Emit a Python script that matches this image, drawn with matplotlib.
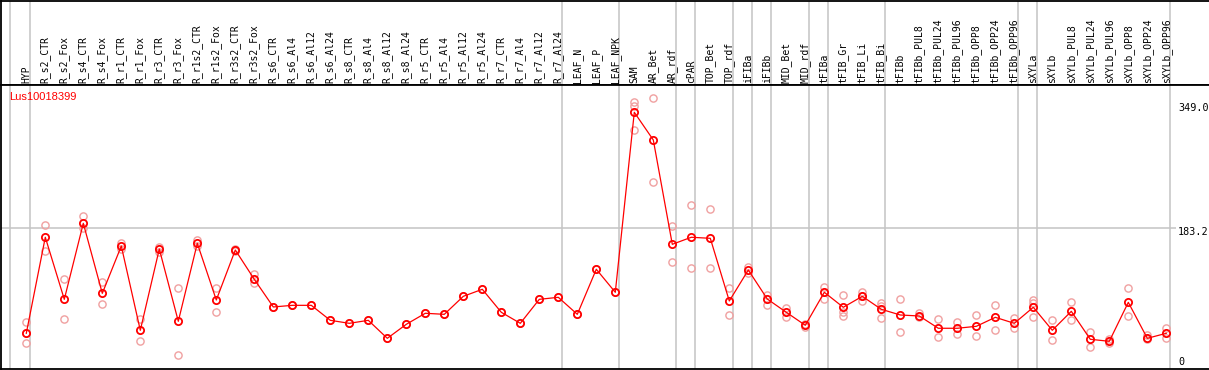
import numpy as np
import matplotlib
matplotlib.use("Agg")
import matplotlib.pyplot as plt

# ---------------------------------------------------------------------------
# data
# ---------------------------------------------------------------------------
gene = "Lus10018399"

samples = [
    "HYP", "R_s2_CTR", "R_s2_Fox", "R_s4_CTR", "R_s4_Fox", "R_r1_CTR", "R_r1_Fox",
    "R_r3_CTR", "R_r3_Fox", "R_r1s2_CTR", "R_r1s2_Fox", "R_r3s2_CTR", "R_r3s2_Fox",
    "R_s6_CTR", "R_s6_Al4", "R_s6_Al12", "R_s6_Al24", "R_s8_CTR", "R_s8_Al4",
    "R_s8_Al12", "R_s8_Al24", "R_r5_CTR", "R_r5_Al4", "R_r5_Al12", "R_r5_Al24",
    "R_r7_CTR", "R_r7_Al4", "R_r7_Al12", "R_r7_Al24", "LEAF_N", "LEAF_P", "LEAF_NPK",
    "SAM", "AR_Bet", "AR_rdf", "cPAR", "TOP_Bet", "TOP_rdf", "iFIBa", "iFIBb",
    "MID_Bet", "MID_rdf", "tFIBa", "tFIB_Gr", "tFIB_Li", "tFIB_Bi", "tFIBb",
    "tFIBb_PUL8", "tFIBb_PUL24", "tFIBb_PUL96", "tFIBb_OPP8", "tFIBb_OPP24",
    "tFIBb_OPP96", "sXYLa", "sXYLb", "sXYLb_PUL8", "sXYLb_PUL24", "sXYLb_PUL96",
    "sXYLb_OPP8", "sXYLb_OPP24", "sXYLb_OPP96",
]

mean_expr = [
    43.1, 171.2, 88.4, 189.8, 96.4, 159.5, 47.1, 155.5, 59.1, 163.1, 87.5, 154.2, 115.1,
    78.2, 80.4, 80.4, 60.4, 56.4, 60.4, 36.4, 55.1, 69.8, 68.4, 92.4, 101.8,
    71.1, 56.4, 88.4, 91.1, 68.4, 128.5, 97.8,
    337.9, 301.0, 161.8, 171.2, 169.8, 86.2, 127.5, 88.8, 71.1, 53.8,
    97.8, 77.8, 92.4, 75.1, 67.5, 66.2, 49.8, 49.8, 52.4, 64.4, 56.4,
    77.8, 47.1, 72.4, 35.1, 32.4, 84.4, 36.4, 43.1,
]

replicates = [
    [57.8, 43.5, 29.7], [187.2, 153.3], [115.1, 61.8], [199.6, 183.2], [111.1, 81.8],
    [163.9, 155.5], [61.8, 32.4], [158.6, 151.9], [103.1, 14.1], [167.6, 159.5],
    [103.1, 71.1], [155.5, 152.9], [122.2, 109.8],
    [78.2], [80.4], [80.4], [60.4], [56.4], [60.4], [36.4], [55.1], [69.8], [68.4],
    [92.4], [101.8], [71.1], [56.4], [88.4], [91.1], [68.4], [128.5], [97.8],
    [352.0, 346.7, 313.9], [356.6, 244.5], [186.2, 138.2], [214.2, 129.8],
    [208.5, 129.8], [103.1, 67.1], [131.1, 123.1], [94.2, 80.8], [76.4, 65.2],
    [55.5, 51.9], [105.3, 88.4], [93.8, 71.9, 66.6], [98.6, 86.6, 92.4],
    [83.1, 79.5, 63.1], [88.8, 44.4], [69.8, 65.2], [61.8, 37.8], [57.8, 41.8],
    [67.5, 39.1], [80.4, 47.1], [63.1, 49.8], [87.5, 83.1, 64.4], [60.4, 33.8],
    [84.4, 60.4], [44.8, 25.2], [35.1, 29.7], [103.1, 65.8], [40.4, 35.1],
    [49.8, 36.4],
]

# samples after which a group separator is drawn
group_ends = ["HYP", "R_r7_Al24", "LEAF_NPK", "AR_rdf", "cPAR", "TOP_rdf", "iFIBa",
              "iFIBb", "MID_rdf", "tFIBa", "tFIB_Bi", "tFIBb_OPP96", "sXYLa",
              "sXYLb_OPP96"]

y_ticks = [349.0, 183.2, 0]

# ---------------------------------------------------------------------------
# layout (pixel based, 1209 x 370)
# ---------------------------------------------------------------------------
W, H = 1209, 370
x0_px, dx_px = 26.3, 19.0          # first column centre, column spacing
left_px, right_px = 1, 1212
head_top, head_bot, plot_bot = 0.5, 85, 369
zero_px, per_px = 365.6, 1.334     # value 0 pixel row, value per pixel

xlim = ((left_px - x0_px) / dx_px, (right_px - x0_px) / dx_px)
ylim = ((zero_px - plot_bot) * per_px, (zero_px - head_bot) * per_px)

GRID = "#c4c4c4"
RED = "#ff0000"
PINK = "#f0a0a0"

fig = plt.figure(figsize=(W / 100, H / 100), dpi=100)
fig.patch.set_facecolor("white")


def frac_box(l, r, t, b):
    return [l / W, 1 - b / H, (r - l) / W, (b - t) / H]


ax_head = fig.add_axes(frac_box(left_px, right_px, head_top, head_bot))
ax = fig.add_axes(frac_box(left_px, right_px, head_bot, plot_bot))

for a in (ax_head, ax):
    a.set_xlim(*xlim)
    a.set_xticks([])
    a.set_yticks([])
    for s in a.spines.values():
        s.set_color("black")
        s.set_linewidth(1.3)
    a.spines["right"].set_visible(False)
ax_head.set_ylim(85, 0)
ax.set_ylim(*ylim)

# vertical group separators
sep_x = [(10.3 - x0_px) / dx_px] + [samples.index(s) + 4 / dx_px for s in group_ends]
for a in (ax_head, ax):
    for xs in sep_x:
        a.axvline(xs, color=GRID, lw=1.1, zorder=0)

# horizontal grid at middle tick
ax.hlines(y_ticks[1], xlim[0], (1176 - x0_px) / dx_px, color=GRID, lw=1.1, zorder=0)

# sample labels in header
for i, name in enumerate(samples):
    ax_head.text(i, 83, name, rotation=90, ha="center", va="bottom",
                 fontsize=7, family="DejaVu Sans Mono", color="black")

# replicate points
xs = np.arange(len(samples))
for i, reps in enumerate(replicates):
    ax.plot([i] * len(reps), reps, linestyle="none", marker="o", ms=5.2,
            mfc="none", mec=PINK, mew=1.0, zorder=2)

# mean line
ax.plot(xs, mean_expr, color=RED, lw=0.9, zorder=3)
ax.plot(xs, mean_expr, linestyle="none", marker="o", ms=5.2, mfc="none",
        mec=RED, mew=1.3, zorder=4)

# gene name
fig.text(9.5 / W, 1 - 97 / H, gene, color=RED, fontsize=8,
         family="Liberation Sans", va="center", ha="left")

# right side value labels
for v, ypx in zip(y_ticks, [107.7, 232, 362]):
    fig.text(1178 / W, 1 - ypx / H, f"{v:.1f}" if v else "0", fontsize=7.3,
             family="DejaVu Sans Mono", va="center", ha="left", color="black")

fig.savefig("out.png", dpi=100, facecolor="white")
